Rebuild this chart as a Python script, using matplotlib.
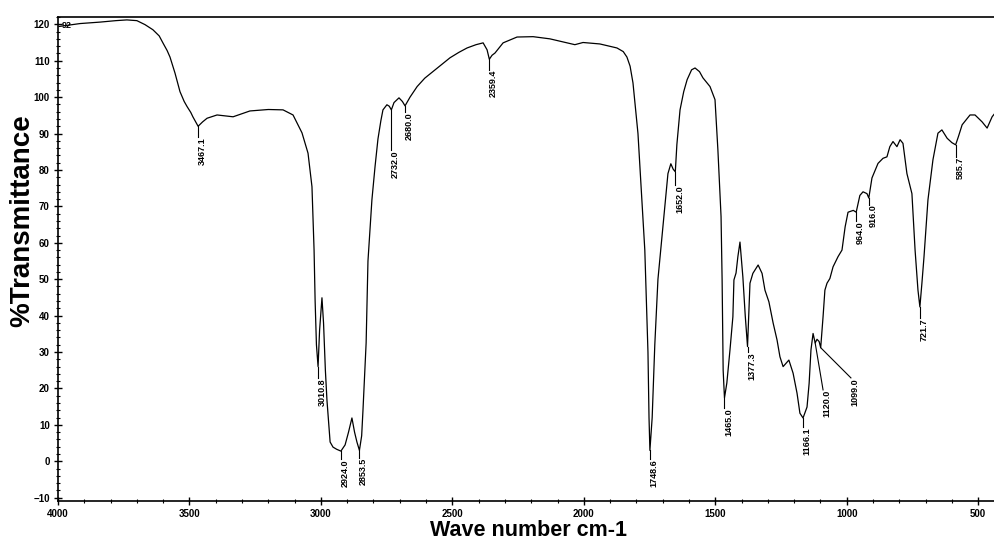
import matplotlib.pyplot as plt
from matplotlib.ticker import MultipleLocator

plt.rcParams['font.family'] = ['Liberation Sans', 'DejaVu Sans']

# Espectro IR: número de onda (cm-1) y % de transmitancia
wn_base = [3996, 3916, 3840, 3780, 3738, 3700, 3669, 3639, 3615, 3601, 3585, 3574, 3555, 3536,
           3520, 3509, 3495, 3487,
           3450, 3433, 3395, 3334, 3270, 3200, 3144, 3106, 3072, 3049, 3034, 3026, 3022, 3017,
           3005, 2996, 2990, 2983, 2977, 2965, 2954, 2940,
           2908, 2895, 2882, 2872, 2863,
           2845, 2840, 2828, 2821, 2806, 2794, 2783, 2772, 2764, 2749, 2740,
           2722, 2703, 2690,
           2661, 2634, 2605, 2574, 2540, 2509, 2475, 2444, 2410, 2383, 2368,
           2349, 2338, 2307, 2254, 2193, 2129, 2064, 2034, 2003, 1939, 1874, 1850, 1836, 1824,
           1813, 1794, 1779, 1768, 1756, 1752,
           1740, 1730, 1718, 1705, 1692, 1680, 1669, 1660,
           1646, 1634, 1620, 1607, 1590, 1577, 1560, 1547, 1520, 1501, 1490, 1478, 1474, 1470,
           1456, 1444, 1433, 1429, 1421, 1414, 1406, 1395, 1386,
           1368, 1357, 1337, 1322, 1311, 1296, 1280, 1265, 1254, 1242, 1220, 1204, 1189, 1178,
           1151, 1143, 1136, 1128, 1124,
           1113, 1105,
           1090, 1083, 1075, 1064, 1052, 1033, 1018, 1006, 995, 975,
           950, 938, 923,
           904, 881, 862, 847, 836, 824, 809, 797, 786, 771, 752, 740, 729,
           714, 706, 691, 672, 653, 638, 618, 600,
           575, 561, 531, 512, 485, 466, 447, 436]
t_base = [119.4, 120.2, 120.6, 121.0, 121.2, 121.0, 119.9, 118.5, 116.8, 114.9, 112.8, 111.0, 106.6, 101.5,
          98.8, 97.4, 95.8, 94.6,
          93.2, 94.2, 95.1, 94.6, 96.2, 96.6, 96.5, 95.1, 90.2, 84.6, 75.4, 58.0, 44.0, 32.0,
          36.0, 44.9, 38.0, 25.0, 16.8, 5.3, 3.9, 3.3,
          4.5, 8.0, 11.9, 8.0, 5.3,
          7.0, 14.0, 32.5, 55.0, 71.8, 81.0, 88.5, 93.5, 96.5, 97.9, 97.5,
          98.5, 99.8, 98.8,
          100.0, 102.9, 105.2, 107.0, 109.0, 110.8, 112.3, 113.5, 114.4, 114.9, 113.0,
          111.5, 112.1, 114.9, 116.5, 116.6, 116.0, 114.9, 114.4, 115.0, 114.6, 113.5, 112.5, 111.0, 108.5,
          103.9, 90.0, 71.8, 58.0, 30.0, 12.0,
          12.0, 32.0, 50.0, 60.0, 70.0, 79.0, 81.7, 80.2,
          87.0, 96.5, 101.5, 104.8, 107.5, 108.0, 107.0, 105.3, 102.9, 99.3, 85.5, 67.2, 50.0, 25.0,
          21.5, 30.6, 39.7, 49.8, 51.7, 56.2, 60.2, 50.6, 40.0,
          48.9, 51.6, 53.9, 51.6, 47.0, 43.8, 38.0, 33.3, 28.7, 26.0, 27.8, 24.2, 18.7, 13.2,
          14.9, 21.4, 30.6, 35.1, 33.8,
          33.5, 32.9,
          39.7, 47.0, 48.9, 50.2, 53.4, 56.2, 58.0, 64.4, 68.4, 68.9,
          73.0, 74.0, 73.5,
          77.8, 81.8, 83.2, 83.6, 86.4, 87.8, 86.4, 88.3, 87.3, 79.0, 73.5, 58.0, 47.0,
          48.9, 56.2, 71.8, 82.8, 90.1, 91.0, 88.7, 87.5,
          89.2, 92.4, 95.1, 95.1, 93.2, 91.5, 94.6, 95.6]

# Bandas marcadas: posición, transmitancia del mínimo y extremo de la línea guía
peak_wn = [3467.1, 3010.8, 2924.0, 2853.5, 2732.0, 2680.0, 2359.4, 1748.6, 1652.0,
           1465.0, 1377.3, 1166.1, 1120.0, 1099.0, 964.0, 916.0, 721.7, 585.7]
peak_t = [92.0, 26.0, 2.8, 3.0, 96.5, 97.6, 110.4, 3.0, 79.5,
          17.4, 31.5, 11.9, 32.5, 31.2, 68.4, 72.3, 42.4, 86.9]
label_wn = [3467.1, 3010.8, 2924.0, 2853.5, 2732.0, 2680.0, 2359.4, 1748.6, 1652.0,
            1465.0, 1377.3, 1166.1, 1090.0, 984.0, 964.0, 916.0, 721.7, 585.7]
label_t = [89.0, 22.8, 0.5, 1.0, 85.4, 95.9, 107.5, 0.5, 75.9,
           14.6, 30.0, 9.4, 19.6, 22.9, 66.0, 70.5, 39.3, 83.6]

# Unir los puntos del espectro con los mínimos marcados
puntos = sorted(zip(wn_base + peak_wn, t_base + peak_t), reverse=True)
wn = [p[0] for p in puntos]
trans = [p[1] for p in puntos]

fig = plt.figure(figsize=(9.95, 5.46), dpi=100)
ax = fig.add_axes([58 / 995, 1 - 501 / 546, (995 - 58) / 995, (501 - 17) / 546])

ax.plot(wn, trans, color='black', linewidth=0.9)

for pw, pt, lw, lt in zip(peak_wn, peak_t, label_wn, label_t):
    ax.plot([pw, lw], [pt, lt], color='black', linewidth=0.8)
    ax.annotate(f'{pw:.1f}', xy=(lw, lt), xytext=(3, 0), textcoords='offset points',
                rotation=90, ha='center', va='top', fontsize=6.5, fontweight='bold')

ax.text(3985, 119.8, '92', fontsize=6.5, fontweight='bold', va='center', ha='left')

ax.set_xlim(4000, 436)
ax.set_ylim(-10.9, 122)

ax.xaxis.set_major_locator(MultipleLocator(500))
ax.xaxis.set_minor_locator(MultipleLocator(100))
ax.yaxis.set_major_locator(MultipleLocator(10))
ax.yaxis.set_minor_locator(MultipleLocator(2))

ax.tick_params(axis='both', which='major', direction='inout', length=6, width=1,
               labelsize=7, pad=3)
ax.tick_params(axis='both', which='minor', direction='inout', length=3, width=0.8)
for lab in ax.get_xticklabels() + ax.get_yticklabels():
    lab.set_fontweight('bold')

ax.spines['right'].set_visible(False)
for s in ['left', 'bottom', 'top']:
    ax.spines[s].set_linewidth(1.2)

fig.text(22 / 995, 1 - 221 / 546, '%Transmittance', rotation=90, fontsize=20,
         fontweight='bold', ha='center', va='center')
fig.text(529 / 995, 1 - 531 / 546, 'Wave number cm-1', fontsize=15.5,
         fontweight='bold', ha='center', va='center')

fig.savefig('out.png', dpi=100)
